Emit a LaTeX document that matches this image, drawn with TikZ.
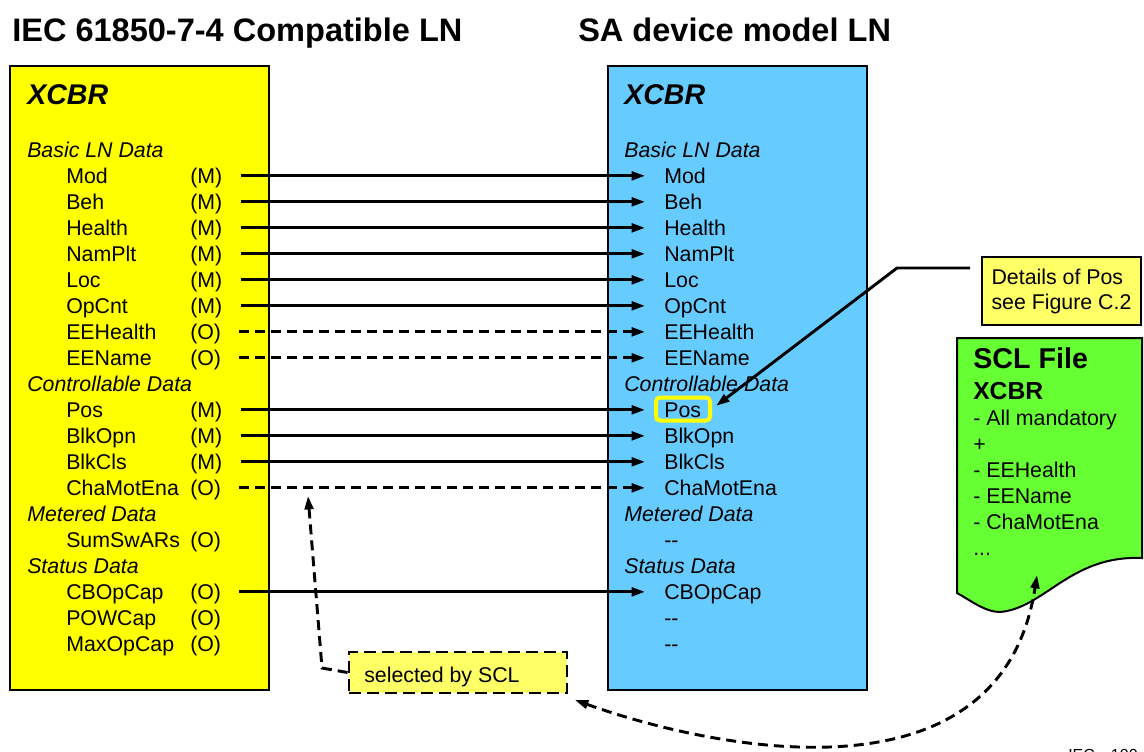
\documentclass[tikz,border=0pt]{standalone}
\usepackage{fontspec}
\setmainfont{Liberation Sans}
\usetikzlibrary{arrows.meta}
\definecolor{lnyellow}{HTML}{FFFF00}
\definecolor{lnblue}{HTML}{66CCFF}
\definecolor{sclgreen}{HTML}{66FF33}
\definecolor{noteyellow}{HTML}{FFFF66}
\tikzset{
  txt/.style={anchor=base west, inner sep=0pt, text height=11.5pt, text depth=0pt, font=\fontsize{16}{19}\selectfont},
  headtxt/.style={txt, font=\fontsize{16}{19}\selectfont\itshape},
  titletxt/.style={anchor=base west, inner sep=0pt, font=\fontsize{24.4}{28}\selectfont\bfseries},
  lntitle/.style={anchor=base west, inner sep=0pt, font=\fontsize{21.4}{25}\selectfont\bfseries\itshape},
  lnbox/.style={draw=black, line width=1.5pt, minimum width=194.25pt, minimum height=468pt, inner sep=0pt},
  tip/.style={-{Triangle[length=10pt,width=6.5pt]}},
  link/.style={line width=2.2pt, tip, shorten <=13.5pt, shorten >=14.25pt},
  dsh/.style={dash pattern=on 7.5pt off 4.5pt},
  optlink/.style={link, dsh},
}
\begin{document}
\begin{tikzpicture}[x=0.75pt,y=-0.75pt]
\useasboundingbox (0,0) rectangle (1144,751);

% titles
\node[titletxt] (titleL) at (12,41) {IEC 61850-7-4 Compatible LN};
\node[titletxt] (titleR) at (578,41) {SA device model LN};

% LN boxes
\node[lnbox, fill=lnyellow] (lbox) at (139.5,378) {};
\node[lnbox, fill=lnblue] (rbox) at (737,378) {};
\node[lntitle] (lx) at (27,104) {XCBR};
\node[lntitle] (rx) at (624,104) {XCBR};

% Pos highlight
\node[draw=lnyellow, line width=3pt, rounded corners=3pt, minimum width=40.5pt, minimum height=17.25pt, inner sep=0pt] (posbox) at (683,409) {};

% headings
\foreach \k/\h in {0/Basic LN Data, 9/Controllable Data, 14/Metered Data, 16/Status Data}{
  \node[headtxt] (lh\k) at (27,157.5+26*\k) {\h};
  \node[headtxt] (rh\k) at (624,157.5+26*\k) {\h};
}

% left items
\foreach \k/\n/\t in {1/Mod/M, 2/Beh/M, 3/Health/M, 4/NamPlt/M, 5/Loc/M, 6/OpCnt/M, 7/EEHealth/O, 8/EEName/O,
  10/Pos/M, 11/BlkOpn/M, 12/BlkCls/M, 13/ChaMotEna/O, 15/SumSwARs/O, 17/CBOpCap/O, 18/POWCap/O, 19/MaxOpCap/O}{
  \node[txt] (l\k) at (66,157.5+26*\k) {\n};
  \node[txt] (t\k) at (190,157.5+26*\k) {(\t)};
}

% right items
\foreach \k/\n in {1/Mod, 2/Beh, 3/Health, 4/NamPlt, 5/Loc, 6/OpCnt, 7/EEHealth, 8/EEName,
  10/Pos, 11/BlkOpn, 12/BlkCls, 13/ChaMotEna, 15/{-{}-}, 17/CBOpCap, 18/{-{}-}, 19/{-{}-}}{
  \node[txt] (r\k) at (664,157.5+26*\k) {\n};
}

% mapping arrows
\foreach \k in {1,2,3,4,5,6,10,11,12,17}{
  \draw[link] (t\k.east) -- (r\k.west);
}
\foreach \k in {7,8,13}{
  \draw[optlink] (t\k.east) -- (r\k.west);
}

% details note
\node[draw=black, line width=1.5pt, fill=noteyellow, align=left, minimum width=119.25pt, minimum height=51pt,
  font=\fontsize{16}{18.75}\selectfont] (det) at (1061.5,291) {Details of Pos\\see Figure C.2};
\coordinate (call0) at (970,268);
\coordinate (call1) at (897,268);
\draw[line width=2.2pt, tip, shorten >=4pt] (call0) -- (call1) -- (posbox.east);

% SCL file
\path[draw=black, line width=1.5pt, fill=sclgreen] (957,338) -- (1142,338) -- (1142,558)
  .. controls (1070,555) and (1045,608) .. (1000,612)
  .. controls (985,612) and (970,600) .. (957,593) -- cycle;
\node[anchor=base west, inner sep=0pt, font=\fontsize{21.5}{25}\selectfont\bfseries] (sclt) at (973,368) {SCL File};
\node[anchor=base west, inner sep=0pt, font=\fontsize{18.5}{22}\selectfont\bfseries] (sclx) at (973,399) {XCBR};
\foreach \i/\s in {0/- All mandatory, 1/+, 2/- EEHealth, 3/- EEName, 4/- ChaMotEna}{
  \node[txt] (scl\i) at (973,425.5+26*\i) {\s};
}
\node[txt] (scl5) at (973,555.5) {...};

% selected by SCL
\node[draw=black, dash pattern=on 9pt off 4.5pt, line width=2.2pt, fill=noteyellow, minimum width=163.5pt, minimum height=30.75pt, inner sep=0pt] (sel) at (458,672.5) {};
\node[txt] (seltxt) at (364,682) {selected by SCL};
\coordinate (selbend) at (322,668);
\coordinate (selup) at (308,496);
\draw[line width=2.2pt, dsh, tip] (sel.west) -- (selbend) -- (selup);

% curved SCL link
\coordinate (sclpt) at (1037,575);
\coordinate (selcorner) at (575,700);
\draw[line width=2.2pt, dsh, {Triangle[length=10pt,width=6.5pt]}-{Triangle[length=10pt,width=6.5pt]}]
  (selcorner) .. controls (700,745) and (1000,815) .. (sclpt);

% figure id (cut off at the lower edge, as in the reference)
\node[anchor=base west, inner sep=0pt, font=\fontsize{12}{14}\selectfont] (figid) at (1068,760) {IEC\quad 100};
\end{tikzpicture}
\end{document}
